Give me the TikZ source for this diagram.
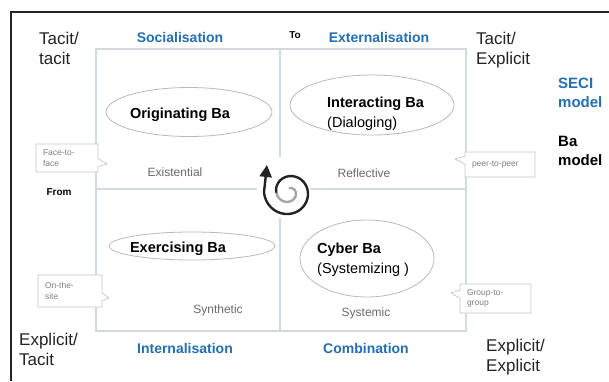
\documentclass[tikz,border=0pt]{standalone}
\usepackage{fontspec}
\setmainfont{Liberation Sans}
\usepackage{tikz}
\usetikzlibrary{shapes.geometric, shapes.callouts, arrows.meta}
\definecolor{seciblue}{RGB}{36,110,178}
\definecolor{gridline}{RGB}{208,220,225}
\definecolor{bagray}{RGB}{105,105,105}
\definecolor{inkdark}{RGB}{35,35,35}

\begin{document}
\begin{tikzpicture}[
  x=1pt, y=-1pt,
  corner/.style={anchor=north west, align=left, inner sep=0pt, text=inkdark,
    font=\fontsize{17}{20}\selectfont},
  mode/.style={anchor=base, inner sep=0pt, text=seciblue,
    font=\fontsize{14}{17}\selectfont\bfseries},
  baring/.style={ellipse, draw=gray!55, fill=white, line width=0.8pt, inner sep=0pt},
  baname/.style={inner sep=0pt, text=black, font=\fontsize{14.5}{20}\selectfont\bfseries},
  bakind/.style={anchor=base, inner sep=0pt, text=bagray, font=\fontsize{12}{14}\selectfont},
  tag/.style={
    rectangle callout, draw=gray!45, fill=white, line width=0.7pt,
    align=left, text=gray, font=\fontsize{8.5}{10.5}\selectfont,
    inner xsep=7pt, inner ysep=2pt, callout pointer width=8pt
  },
  legend/.style={anchor=north west, align=left, inner sep=0pt,
    font=\fontsize{15}{19}\selectfont\bfseries},
  swirl/.style={line width=2.4pt, line cap=round}
]
\useasboundingbox (0,0) rectangle (609,381);

% frame
\draw[line width=1.3pt, inkdark] (11,381) -- (11,12) -- (609,12);

% quadrants
\draw[gridline, line width=1.2pt] (96,49) rectangle (466,331);
\draw[gridline, line width=1.2pt] (280,49) -- (280,157) (280,218) -- (280,331);
\draw[gridline, line width=1.2pt] (96,189) -- (257,189) (310,189) -- (466,189);

% headings
\node[mode] (soc) at (180,42) {Socialisation};
\node[mode] (ext) at (379,42) {Externalisation};
\node[mode] (int) at (185,353) {Internalisation};
\node[mode] (comb) at (366,353) {Combination};
\node[anchor=base, inner sep=0pt, font=\fontsize{10}{12}\selectfont\bfseries] (to) at (295,38) {To};
\node[anchor=base, inner sep=0pt, font=\fontsize{10}{12}\selectfont\bfseries] (from) at (59,195) {From};

\node[corner] (tt) at (39,32) {Tacit/\\tacit};
\node[corner] (te) at (476,32) {Tacit/\\Explicit};
\node[corner] (et) at (19,333) {Explicit/\\Tacit};
\node[corner] (ee) at (486,339) {Explicit/\\Explicit};

\node[legend, text=seciblue] (seci) at (558,78) {SECI\\model};
\node[legend, text=black] (bamodel) at (558,136) {Ba\\model};

% ba
\node[baring, minimum width=166pt, minimum height=49pt] (origring) at (189,112) {};
\node[baname, anchor=base] (orig) at (180,118) {Originating Ba};
\node[baring, minimum width=164pt, minimum height=60pt] (interring) at (372,105) {};
\node[baname, anchor=north west, align=left] (inter) at (327,97) {Interacting Ba\\\mdseries(Dialoging)};
\node[baring, minimum width=166pt, minimum height=28pt] (exerring) at (192,246) {};
\node[baname, anchor=base] (exer) at (178,252) {Exercising Ba};
\node[baring, minimum width=134pt, minimum height=77pt] (cyberring) at (367,258.5) {};
\node[baname, anchor=north west, align=left] (cyber) at (317,243) {Cyber Ba\\\mdseries(Systemizing )};

\node[bakind] (exist) at (175,176) {Existential};
\node[bakind] (refl) at (364,177) {Reflective};
\node[bakind] (synth) at (218,313) {Synthetic};
\node[bakind] (system) at (366,316) {Systemic};

% callouts
\node[tag, text width=48pt, minimum height=28pt, callout absolute pointer={(107,164)}] (facetag) at (67,158) {Face-to-\\face};
\node[tag, text width=56pt, minimum height=25pt, callout absolute pointer={(455,159)}] (peertag) at (500,164.5) {peer-to-peer};
\node[tag, text width=50pt, minimum height=32pt, callout absolute pointer={(109,298)}] (sitetag) at (70,291) {On-the-\\site};
\node[tag, text width=57pt, minimum height=29pt, callout absolute pointer={(451,293)}] (grouptag) at (495.5,298.5) {Group-to-\\group};

% spiral
\coordinate (swirltip) at (267,165);
\draw[swirl, gray!70] plot[domain=360:620, samples=60, variable=\s]
  ({289-(25-0.034*\s)*cos(\s)}, {192+(25-0.034*\s)*sin(\s)});
\draw[swirl, inkdark, -{Triangle[length=12pt,width=12pt]}] plot[domain=360:0, samples=60, variable=\s]
  ({289-(25-0.034*\s)*cos(\s)}, {192+(25-0.034*\s)*sin(\s)}) -- (swirltip);
\end{tikzpicture}
\end{document}
